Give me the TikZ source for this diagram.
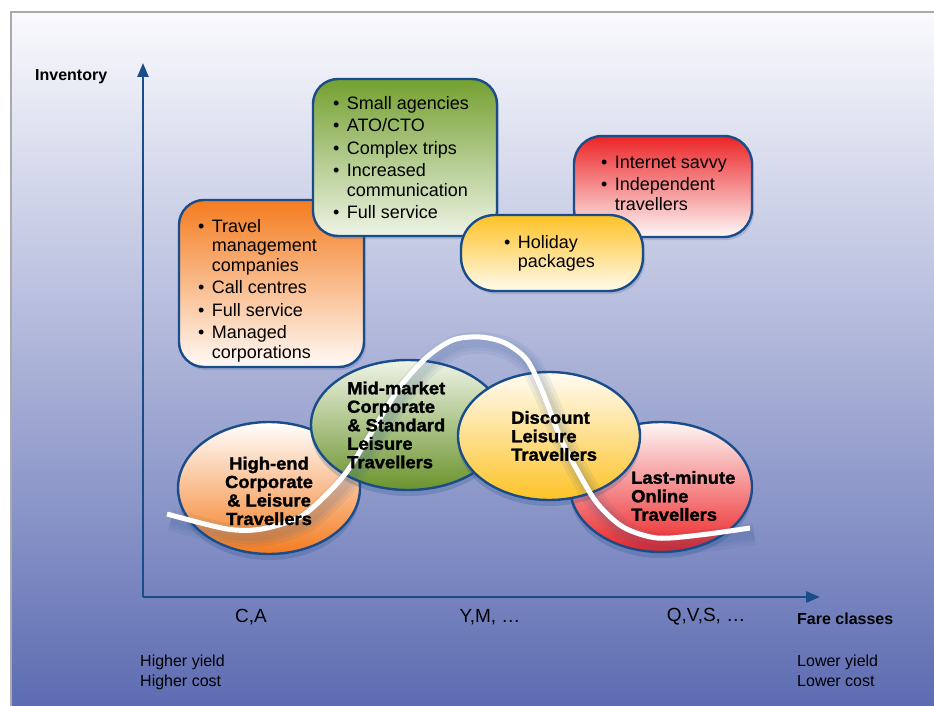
\documentclass[tikz,border=0pt]{standalone}
\usepackage{fontspec}
\setmainfont{Liberation Sans}
\newfontfamily\heavyfont{Liberation Sans}[UprightFont={* Bold}, FakeBold=1.6, FakeStretch=1.05]
\usetikzlibrary{shapes.geometric,arrows.meta,shadows}

\definecolor{axisblue}{RGB}{26,76,138}
\definecolor{frameg}{RGB}{170,170,170}
\definecolor{bgtop}{RGB}{250,250,253}
\definecolor{bgmid}{RGB}{184,189,223}
\definecolor{bgbot}{RGB}{93,108,178}
\definecolor{tmcorange}{RGB}{244,124,32}
\definecolor{smagreen}{RGB}{116,160,48}
\definecolor{netred}{RGB}{236,36,38}
\definecolor{holyellow}{RGB}{253,194,38}

\newcommand{\itm}{\textbullet\hspace{0.42em}}
\newcommand{\cnt}{\phantom{\textbullet}\hspace{0.42em}}

\tikzset{
  panel/.style={draw=axisblue, line width=2.4pt, rounded corners=#1, inner sep=0pt,
    drop shadow={shadow xshift=2pt, shadow yshift=-3pt, opacity=0.18, fill=axisblue}},
  panel/.default=25pt,
  blob/.style={ellipse, draw=axisblue, line width=2.4pt, inner sep=0pt,
    drop shadow={shadow xshift=0pt, shadow yshift=-6pt, opacity=0.22, fill=axisblue}},
  bullets/.style={anchor=north west, align=left, inner sep=0pt,
    font=\fontsize{18}{19.5}\selectfont},
  seg/.style={align=left, inner sep=0pt,
    font=\heavyfont\fontsize{17.5}{18.5}\selectfont},
  axis/.style={draw=axisblue, line width=2.5pt, -{Triangle[length=14pt,width=11pt]}},
  curve/.style={white, line width=5pt},
  curveshade/.style={axisblue, opacity=0.07, line width=#1},
  axlab/.style={inner sep=0pt, font=\bfseries\fontsize{16}{18}\selectfont},
  ticklab/.style={inner sep=0pt, font=\fontsize{19}{22}\selectfont},
  note/.style={anchor=north west, align=left, inner sep=0pt,
    font=\fontsize{16}{20}\selectfont}
}

\begin{document}
\begin{tikzpicture}[x=1pt,y=-1pt]
\useasboundingbox (0,0) rectangle (934,706);
% backdrop and frame
\fill[top color=bgtop, middle color=bgmid, bottom color=bgbot] (11,12) rectangle (934,706);
\draw[frameg, line width=2.5pt] (934,12) -- (11,12) -- (11,706);

% axes
\coordinate (origin) at (143,597);
\coordinate (ytip) at (143,63);
\coordinate (xtip) at (820,597);
\draw[axis] (origin) -- (ytip);
\draw[axis] (origin) -- (xtip);
\node[axlab, anchor=west] (inv) at (35,77) {Inventory};
\node[axlab, anchor=west] (fare) at (797,619) {Fare classes};
\foreach \name/\xpos/\txt in {ca/251/{C,A}, ym/490/{Y,M, \dots}, qvs/706/{Q,V,S, \dots}}
  \node[ticklab] (\name) at (\xpos,617) {\txt};
\node[note] (hi) at (140,655) {Higher yield\\Higher cost};
\node[note] (lo) at (797,655) {Lower yield\\Lower cost};

% channel boxes
\node[panel, top color=tmcorange, bottom color=tmcorange!4,
  minimum width=185pt, minimum height=167pt] (tmc) at (271.5,283.5) {};
\node[bullets] (tmctxt) at ([shift={(20,20)}]tmc.north west)
  {\itm Travel\\ \cnt management\\ \cnt companies\\[3pt]
   \itm Call centres\\[3pt] \itm Full service\\[3pt]
   \itm Managed\\ \cnt corporations};

\node[panel, top color=smagreen, bottom color=smagreen!12,
  minimum width=184pt, minimum height=157pt] (smag) at (405,157.5) {};
\node[bullets] (smagtxt) at ([shift={(21,18)}]smag.north west)
  {\itm Small agencies\\[3pt] \itm ATO/CTO\\[3pt] \itm Complex trips\\[3pt]
   \itm Increased\\ \cnt communication\\[3pt] \itm Full service};

\node[panel=28pt, top color=netred, bottom color=netred!3,
  minimum width=178pt, minimum height=101pt] (net) at (663,186.5) {};
\node[bullets] (nettxt) at ([shift={(28,21)}]net.north west)
  {\itm Internet savvy\\[3pt] \itm Independent\\ \cnt travellers};

\node[panel=34pt, top color=holyellow, bottom color=holyellow!8,
  minimum width=182pt, minimum height=76pt] (hol) at (552,253) {};
\node[bullets] (holtxt) at ([shift={(44,21)}]hol.north west)
  {\itm Holiday\\ \cnt packages};

% segments
\node[blob, top color=white, bottom color=tmcorange,
  minimum width=182pt, minimum height=132pt] (highend) at (269,488) {};
\node[blob, top color=netred!4, bottom color=netred,
  minimum width=182pt, minimum height=130pt] (lastmin) at (661,487) {};
\node[blob, top color=smagreen!12, bottom color=smagreen!92!black,
  minimum width=194pt, minimum height=130pt] (midmkt) at (408,425) {};
\node[blob, top color=holyellow!5, bottom color=holyellow,
  minimum width=182pt, minimum height=128pt] (discount) at (549,436) {};

% demand curve with a soft shadow
\foreach \w in {22,15,9}
  \draw[curveshade=\w pt, shift={(4,6)}] plot[smooth, tension=0.5] coordinates {(167,514)
    (227,529) (262,529) (300,517) (327,494) (348,470) (373,430) (400,387) (427,357)
    (453,340) (480,337) (505,343) (527,360) (543,393) (560,437) (577,470) (597,503)
    (623,527) (657,538) (700,535) (750,528)};
\draw[curve] plot[smooth, tension=0.5] coordinates {(167,514) (227,529) (262,529)
  (300,517) (327,494) (348,470) (373,430) (400,387) (427,357) (453,340) (480,337)
  (505,343) (527,360) (543,393) (560,437) (577,470) (597,503) (623,527) (657,538)
  (700,535) (750,528)};

\node[seg, align=center] (highendtxt) at (269,491) {High-end\\Corporate\\\& Leisure\\Travellers};
\node[seg, anchor=west] (midmkttxt) at (347,425) {Mid-market\\Corporate\\\& Standard\\Leisure\\Travellers};
\node[seg, anchor=west] (discounttxt) at (511,436) {Discount\\Leisure\\Travellers};
\node[seg, anchor=west] (lastmintxt) at (631,496) {Last-minute\\Online\\Travellers};
\end{tikzpicture}
\end{document}
